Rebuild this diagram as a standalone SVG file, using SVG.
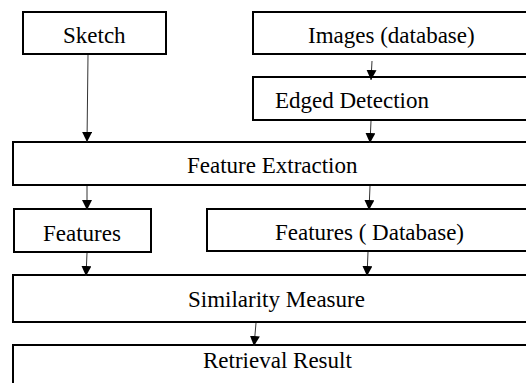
<svg xmlns="http://www.w3.org/2000/svg" width="526" height="383" viewBox="0 0 526 383">
<defs>
<style>
.box{fill:#fff;stroke:#000;stroke-width:2}
.lbl{font-family:'Liberation Serif','Times New Roman','DejaVu Serif',serif;font-size:23px;fill:#000}
.conn{stroke:#333;stroke-width:1;fill:none;marker-end:url(#ah)}
</style>
<marker id="ah" markerUnits="userSpaceOnUse" markerWidth="12" markerHeight="12" refX="10" refY="5" orient="auto">
<path d="M0,0 L10,5 L0,10 z" fill="#000"/>
</marker>
</defs>
<rect width="526" height="383" fill="#fff"/>
<g id="sketch"><rect class="box" x="23" y="12" width="143" height="42"/><text class="lbl" font-family="Liberation Serif, serif" x="63" y="43">Sketch</text></g>
<g id="images"><rect class="box" x="253" y="12" width="290" height="42"/><text class="lbl" font-family="Liberation Serif, serif" x="308" y="43">Images (database)</text></g>
<g id="edged"><rect class="box" x="253" y="77" width="290" height="43"/><text class="lbl" font-family="Liberation Serif, serif" x="275" y="108">Edged Detection</text></g>
<g id="extraction"><rect class="box" x="13" y="142" width="530" height="43"/><text class="lbl" font-family="Liberation Serif, serif" x="187" y="173">Feature Extraction</text></g>
<g id="features"><rect class="box" x="14" y="209" width="137" height="43"/><text class="lbl" font-family="Liberation Serif, serif" x="43" y="241">Features</text></g>
<g id="featuresdb"><rect class="box" x="207" y="209" width="336" height="42"/><text class="lbl" font-family="Liberation Serif, serif" x="275" y="240">Features ( Database)</text></g>
<g id="similarity"><rect class="box" x="13" y="275" width="530" height="47"/><text class="lbl" font-family="Liberation Serif, serif" x="188" y="307">Similarity Measure</text></g>
<g id="retrieval"><rect class="box" x="13" y="345" width="530" height="60"/><text class="lbl" font-family="Liberation Serif, serif" x="203" y="368">Retrieval Result</text></g>
<g id="connectors">
<line class="conn" x1="88" y1="55" x2="87" y2="142"/>
<line class="conn" x1="372" y1="61" x2="371" y2="80"/>
<line class="conn" x1="371" y1="121" x2="370" y2="143"/>
<line class="conn" x1="87" y1="186" x2="87" y2="210"/>
<line class="conn" x1="370" y1="186" x2="369" y2="210"/>
<line class="conn" x1="87" y1="253" x2="86" y2="276"/>
<line class="conn" x1="368" y1="252" x2="367" y2="276"/>
<line class="conn" x1="256" y1="323" x2="254" y2="346"/>
</g>
</svg>
